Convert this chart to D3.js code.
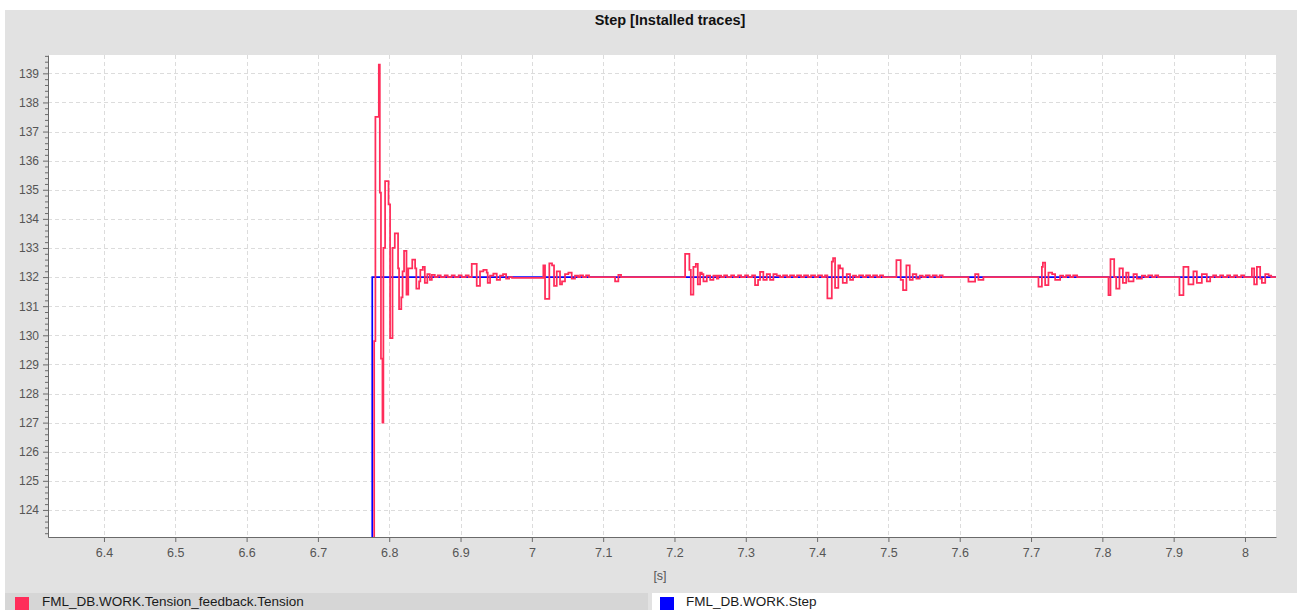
<!DOCTYPE html>
<html>
<head>
<meta charset="utf-8">
<script src="https://cdn.jsdelivr.net/npm/d3@7/dist/d3.min.js"></script>
<style>
  html, body { margin: 0; padding: 0; background: #fff; }
  svg { display: block; font-family: "Liberation Sans", Arial, sans-serif; }
</style>
</head>
<body>
<svg id="chart" width="1304" height="610"></svg>
<script>
// Axis ticks and visible range
const xTicks = [6.4, 6.5, 6.6, 6.7, 6.8, 6.9, 7.0, 7.1, 7.2, 7.3, 7.4, 7.5, 7.6, 7.7, 7.8, 7.9, 8.0];
const yTicks = [124, 125, 126, 127, 128, 129, 130, 131, 132, 133, 134, 135, 136, 137, 138, 139];
const xDomain = [6.3215, 8.0435];
const yDomain = [123.07, 139.63];

// FML_DB.WORK.Step : setpoint jumps to 132
const stepTimes = [6.30, 6.7762, 8.05];
const stepValues = [0, 132, 132];

// FML_DB.WORK.Tension_feedback.Tension : value before the step, then bursts
const tensionBefore = [6.30, 0];
const tensionEnd = [8.05, 132];
// burst start times [s]
const burstStarts = [6.7789, 6.9157, 7.0161, 7.1167, 7.2149, 7.3130, 7.4144, 7.5112, 7.6122, 7.7104, 7.8086, 7.9081, 8.0097];
// each burst: [offset ms, value]
const burst680 = [[0,129.8],[1.7,137.5],[6.5,139.3],[7.9,134.9],[9.5,129.2],[11.6,127.0],[12.9,133.0],[15.3,135.3],
  [20.1,134.5],[22.3,129.9],[25.7,133.0],[28.9,133.5],[33.5,132.3],[34.9,130.9],[38.0,131.3],[39.8,132.2],
  [41.9,132.9],[45.3,131.4],[47.8,132.3],[53.4,132.6],[57.4,132.3],[59.1,131.6],[63.0,131.85],[64.7,132.25],
  [68.2,132.35],[71.0,131.8],[74.5,132.1],[78.0,131.9],[80.8,132.08],[85.0,132],[89.1,132.06],[93.3,132],
  [98.9,132.06],[103.1,132],[108.7,132.06],[112.9,132],[118.5,132.06],[122.7,132],[128.3,132.06],[132.5,132]];
const burst692 = [[0,132.45],[7.0,131.7],[11.6,132.2],[16.3,132.25],[21.0,132.15],[22.4,131.8],[25.7,132.05],
  [30.3,132.12],[35.1,131.9],[39.7,132.05],[43.9,132.1],[48.2,131.95],[52.4,132],[56.5,131.97]];
const burst702 = [[0,132.4],[2.4,131.25],[8.4,132.47],[12.2,132.4],[15.0,131.7],[18.8,132.2],[23.4,131.75],
  [26.2,131.85],[30.4,132.1],[35.1,132.15],[39.8,131.95],[44.4,132.05],[48.7,132],[51.5,132.06],[55.7,132],
  [59.9,132.06],[64.1,132]];
const burst712 = [[0,131.85],[4.6,132.08],[8.4,132]];
const burst722 = [[0,132.8],[6.0,132.25],[8.0,131.4],[11.6,132.35],[15.0,132.45],[17.8,131.75],[21.0,132.15],
  [23.4,132.1],[25.7,131.85],[30.4,132.05],[35.1,131.9],[39.7,132.05],[44.5,131.95],[46.7,132.05],[50.5,132],
  [54.7,132.06],[58.9,132],[64.5,132.06],[68.7,132],[74.3,132.06],[78.5,132],[84.1,132.06],[88.3,132],[93.9,132.06]];
const burst732 = [[0,131.72],[4.2,131.9],[7.0,132.18],[11.6,131.9],[16.4,132.1],[21.0,131.9],[25.7,132.1],
  [30.4,132.05],[35.1,132],[39.3,132.06],[44.9,132],[49.1,132.06],[54.7,132],[58.9,132.06],[64.5,132],
  [68.7,132.06],[74.3,132],[78.5,132.06],[84.1,132],[88.3,132.06],[93.9,132],[98.1,132.06]];
const burst742 = [[0,131.27],[6.2,132.53],[8.0,132.65],[10.8,131.63],[15.4,132.4],[17.8,132.3],[21.6,131.8],
  [27.2,132.1],[31.8,131.9],[36.0,132.05],[40.2,132],[44.5,132.06],[50.1,132],[54.3,132.06],[59.9,132],
  [64.1,132.06],[69.7,132],[73.9,132.06],[78.1,132]];
const burst752 = [[0,132.58],[6.0,131.9],[9.3,131.55],[14.0,132.4],[18.7,131.9],[22.9,132.1],[28.0,131.95],
  [32.7,132.05],[36.9,132],[41.1,132.06],[46.7,132],[50.9,132.06],[56.5,132],[60.7,132.06],[64.9,132]];
const burst762 = [[0,131.84],[9.4,132.1],[14.0,131.9],[21.0,132]];
const burst772 = [[0,131.67],[4.8,132.35],[6.2,132.5],[9.4,131.72],[14.0,132.15],[19.2,132.1],[23.4,131.9],
  [30.4,132.05],[34.6,132],[38.8,132.06],[44.5,132],[48.7,132.06],[54.3,132]];
const burst782 = [[0,131.38],[2.8,132.62],[8.0,132.0],[10.8,131.6],[15.4,132.3],[20.2,131.8],[24.8,132.15],
  [28.1,131.85],[35.1,132.1],[39.8,131.95],[46.8,132.05],[51.5,132],[55.7,132.06],[61.3,132],[65.5,132.06],[69.7,132]];
const burst792 = [[0,131.38],[5.6,132.35],[12.6,131.75],[19.6,132.2],[24.4,131.8],[31.4,132.1],[38.4,131.85],
  [43.1,132.0],[47.3,132.06],[51.5,132],[57.1,132.06],[61.3,132],[66.9,132.06],[71.1,132],[76.7,132.06],
  [80.9,132],[86.5,132.06],[90.7,132]];
const burst802 = [[0,132.3],[3.2,131.75],[7.0,132.35],[11.6,131.95],[14.0,131.8],[18.7,132.1],[23.4,132.05],[27.1,132]];
const bursts = [burst680, burst692, burst702, burst712, burst722, burst732, burst742, burst752,
  burst762, burst772, burst782, burst792, burst802];

const seriesLabels = ['FML_DB.WORK.Tension_feedback.Tension', 'FML_DB.WORK.Step'];
const seriesColors = ['#ff2d5a', '#0000ff'];

// --- layout
const plot = { left: 48, top: 55, right: 1276, bottom: 537 };

const svg = d3.select('#chart');

// Panel background
svg.append('rect').attr('x', 5).attr('y', 10).attr('width', 1292).attr('height', 600).attr('fill', '#e2e2e2');

// Title
svg.append('text')
  .attr('x', 670).attr('y', 25)
  .attr('text-anchor', 'middle')
  .attr('font-size', '14.5px').attr('font-weight', 'bold').attr('fill', '#111')
  .text('Step [Installed traces]');

// Plot area
svg.append('rect')
  .attr('x', plot.left).attr('y', plot.top)
  .attr('width', plot.right - plot.left).attr('height', plot.bottom - plot.top)
  .attr('fill', '#fff');

const x = d3.scaleLinear().domain(xDomain).range([plot.left, plot.right]);
const y = d3.scaleLinear().domain(yDomain).range([plot.bottom, plot.top]);

// Grid
const grid = svg.append('g').attr('stroke', '#dcdcdc').attr('stroke-width', 1).attr('stroke-dasharray', '4,3');
grid.selectAll('.hg').data(yTicks).enter().append('line')
  .attr('x1', plot.left).attr('x2', plot.right)
  .attr('y1', d => Math.round(y(d)) + 0.5).attr('y2', d => Math.round(y(d)) + 0.5);
grid.selectAll('.vg').data(xTicks).enter().append('line')
  .attr('y1', plot.top).attr('y2', plot.bottom)
  .attr('x1', d => Math.round(x(d)) + 0.5).attr('x2', d => Math.round(x(d)) + 0.5);

// Clip for traces
svg.append('clipPath').attr('id', 'plot-clip').append('rect')
  .attr('x', plot.left).attr('y', plot.top)
  .attr('width', plot.right - plot.left).attr('height', plot.bottom - plot.top);

const line = d3.line()
  .x(d => x(d[0]))
  .y(d => y(d[1]))
  .curve(d3.curveStepAfter);

// Step trace (underneath)
const stepData = stepTimes.map((t, i) => [t, stepValues[i]]);
svg.append('path')
  .datum(stepData)
  .attr('clip-path', 'url(#plot-clip)')
  .attr('d', line)
  .attr('fill', 'none')
  .attr('stroke', seriesColors[1])
  .attr('stroke-width', 1.7);

// Tension trace
const tensionData = [tensionBefore];
bursts.forEach((b, i) => {
  b.forEach(p => tensionData.push([burstStarts[i] + p[0] / 1000, p[1]]));
});
tensionData.push(tensionEnd);

svg.append('path')
  .datum(tensionData)
  .attr('clip-path', 'url(#plot-clip)')
  .attr('d', line)
  .attr('fill', 'none')
  .attr('stroke', seriesColors[0])
  .attr('stroke-width', 1.75);

// Y axis with minor ticks
const yMinor = d3.range(123.2, 139.61, 0.2).filter(v => Math.abs(v - Math.round(v)) > 0.01);
svg.append('g')
  .attr('transform', `translate(${plot.left},0)`)
  .call(d3.axisLeft(y).tickValues(yMinor).tickSize(3).tickSizeOuter(0).tickFormat(''))
  .call(g => g.select('.domain').remove())
  .call(g => g.selectAll('line').attr('stroke', '#6a6a6a'));

svg.append('g')
  .attr('transform', `translate(${plot.left},0)`)
  .call(d3.axisLeft(y).tickValues(yTicks).tickSize(5).tickSizeOuter(0).tickPadding(4).tickFormat(d3.format('d')))
  .call(g => g.select('.domain').attr('stroke', '#6a6a6a'))
  .call(g => g.selectAll('line').attr('stroke', '#6a6a6a'))
  .call(g => g.selectAll('text').attr('fill', '#555').attr('font-size', '12px')
    .attr('font-family', '"Liberation Sans", Arial, sans-serif'));

// X axis
svg.append('g')
  .attr('transform', `translate(0,${plot.bottom})`)
  .call(d3.axisBottom(x).tickValues(xTicks).tickSize(5).tickSizeOuter(0).tickPadding(6).tickFormat(d3.format('~g')))
  .call(g => g.select('.domain').attr('stroke', '#6a6a6a'))
  .call(g => g.selectAll('line').attr('stroke', '#6a6a6a'))
  .call(g => g.selectAll('text').attr('fill', '#555').attr('font-size', '12.5px')
    .attr('font-family', '"Liberation Sans", Arial, sans-serif'));

// X axis unit
svg.append('text')
  .attr('x', 660).attr('y', 580)
  .attr('text-anchor', 'middle')
  .attr('font-size', '12.5px').attr('fill', '#555')
  .text('[s]');

// Legend row
const legend = [
  { x: 5, w: 643, fill: '#d6d6d6', sw: 15, tx: 42 },
  { x: 652, w: 645, fill: '#ffffff', sw: 660, tx: 686 }
];
legend.forEach((l, i) => {
  svg.append('rect').attr('x', l.x).attr('y', 593).attr('width', l.w).attr('height', 17).attr('fill', l.fill);
  svg.append('rect').attr('x', l.sw).attr('y', 597).attr('width', 14).attr('height', 13).attr('fill', seriesColors[i]);
  svg.append('text')
    .attr('x', l.tx).attr('y', 606)
    .attr('font-size', '13.5px').attr('fill', '#1a1a1a')
    .text(seriesLabels[i]);
});
</script>
</body>
</html>
